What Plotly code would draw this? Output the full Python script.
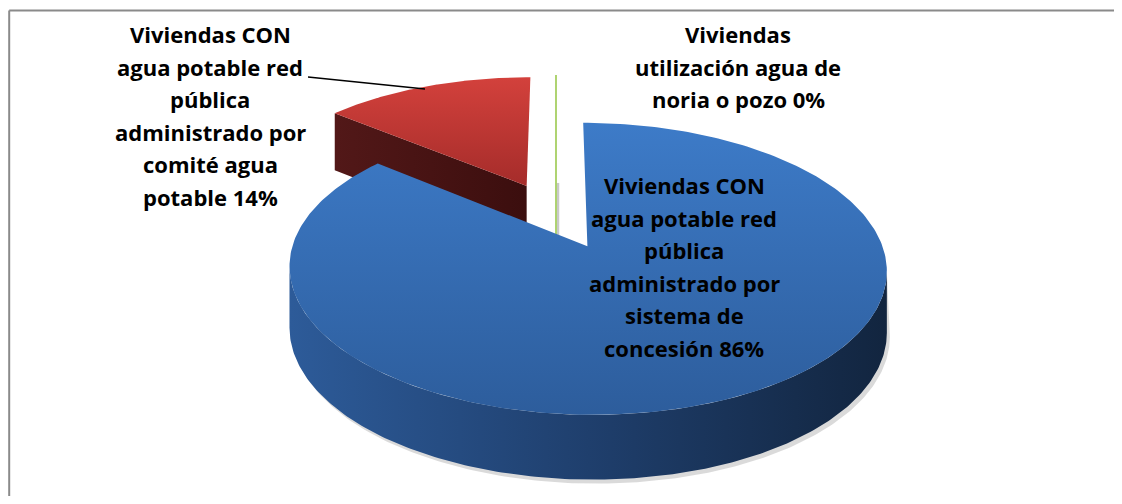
import numpy as np
import plotly.graph_objects as go

# ---------------- data ----------------
categories = [
    "Viviendas CON\nagua potable red\npública\nadministrado por\nsistema de\nconcesión",
    "Viviendas CON\nagua potable red\npública\nadministrado por\ncomité agua\npotable",
    "Viviendas\nutilización agua de\nnoria o pozo",
]
values = [86, 14, 0]

top_colors = [["#2d5d9c", "#3d7bc8"], ["#a52c2a", "#d3413c"], ["#7fae38", "#9bc94e"]]
side_colors = [["#2d5b99", "#1f3f6d", "#12253f"], ["#521818", "#471313", "#3b0e0e"], ["#6f9a30", "#6f9a30", "#6f9a30"]]

# label placement (page px) – centre x, first line y
label_pos = [(684, 184), (210, 33), (738, 33)]
LINE_STEP = 32.6

# ---------------- geometry params (page pixels) ----------------
PAGE_W, PAGE_H = 1122, 504
OFF = 8                       # default body margin of the html page
FW, FH = PAGE_W - 2 * OFF, PAGE_H - 2 * OFF
CX, CY = 556, 215
RX, RY = 285, 133
PERSP = 0.15
EXPLODE = 0.25
DEPTH = 60
DPERSP = 0.06


def px(x):
    return np.asarray(x, dtype=float) - OFF


def py(y):
    return FH - (np.asarray(y, dtype=float) - OFF)


def proj(X, Y, z=0.0):
    X = np.asarray(X, dtype=float)
    Y = np.asarray(Y, dtype=float)
    f = 1 + PERSP * Y
    sx = CX + RX * X / f
    sy = CY - RY * Y / f + z * DEPTH / (1 + DPERSP * Y)
    return px(sx), py(sy)


total = float(sum(values))
cum = np.concatenate([[0], np.cumsum(values)])
a0s = 2 * np.pi * cum[:-1] / total
a1s = 2 * np.pi * cum[1:] / total

fig = go.Figure()

slices = []
for i, (v, a0, a1) in enumerate(zip(values, a0s, a1s)):
    mid = (a0 + a1) / 2
    ox, oy = EXPLODE * np.sin(mid), EXPLODE * np.cos(mid)
    slices.append((i, a0, a1, ox, oy))

# back-to-front
slices.sort(key=lambda s: -s[4])


def add_poly(xs, ys, grad_type=None, cscale=None, color=None):
    tr = dict(x=list(xs) + [xs[0]], y=list(ys) + [ys[0]], mode="lines", fill="toself",
              line=dict(width=0, color="rgba(0,0,0,0)"), hoverinfo="skip", showlegend=False)
    if grad_type:
        tr["fillgradient"] = dict(type=grad_type, colorscale=cscale)
    else:
        tr["fillcolor"] = color
    fig.add_trace(go.Scatter(**tr))


for (i, a0, a1, ox, oy) in slices:
    if a1 - a0 < 1e-6:
        # zero-value slice: only its edge is visible as a thin line
        xo, yo = proj(ox + np.sin(a0), oy + np.cos(a0))
        xa, ya = proj(ox, oy)
        xb, yb = proj(ox, oy, 1)
        fig.add_trace(go.Scatter(x=[float(xb) + 2, float(xa) + 2], y=[float(yb), float(ya)],
                                 mode="lines", line=dict(color="#c9c9c9", width=2.5),
                                 hoverinfo="skip", showlegend=False))
        fig.add_trace(go.Scatter(x=[float(xo), float(xa), float(xb)], y=[float(yo), float(ya), float(yb)],
                                 mode="lines", line=dict(color=top_colors[i][1], width=1.6),
                                 hoverinfo="skip", showlegend=False))
        continue
    sc = side_colors[i]
    cs_side = [[0, sc[0]], [0.5, sc[1]], [1, sc[2]]]
    # radial faces
    for edge, nrm in ((a0, (-np.cos(a0), np.sin(a0))), (a1, (np.cos(a1), -np.sin(a1)))):
        if nrm[1] < -1e-9:
            X = [ox, ox + np.sin(edge), ox + np.sin(edge), ox]
            Y = [oy, oy + np.cos(edge), oy + np.cos(edge), oy]
            Z = [0, 0, 1, 1]
            pts = [proj(x, y, z) for x, y, z in zip(X, Y, Z)]
            add_poly([float(p[0]) for p in pts], [float(p[1]) for p in pts], "horizontal", cs_side)
    # outer rim (front visible part)
    tt = np.linspace(0, 2 * np.pi, 2000)
    sx, _ = proj(ox + np.sin(tt), oy + np.cos(tt))
    t_right, t_left = tt[np.argmax(sx)], tt[np.argmin(sx)]
    ts, te = max(a0, t_right), min(a1, t_left)
    if te > ts:
        t = np.linspace(ts, te, 200)
        xt, yt = proj(ox + np.sin(t), oy + np.cos(t), 0)
        xb, yb = proj(ox + np.sin(t), oy + np.cos(t), 1)
        # soft shadow below the rim
        add_poly(np.concatenate([xt, xb[::-1] + 3]), np.concatenate([yt, yb[::-1] - 4]),
                 color="rgba(150,150,150,0.35)")
        add_poly(np.concatenate([xt, xb[::-1]]), np.concatenate([yt, yb[::-1]]), "horizontal", cs_side)
    # top face
    t = np.linspace(a0, a1, 300)
    xt, yt = proj(ox + np.sin(t), oy + np.cos(t), 0)
    xa, ya = proj(ox, oy, 0)
    add_poly(np.concatenate([[xa], xt]), np.concatenate([[ya], yt]), "vertical",
             [[0, top_colors[i][0]], [1, top_colors[i][1]]])

# ---------------- labels ----------------
annotations = []
for i, (txt, v) in enumerate(zip(categories, values)):
    pct = round(v / total * 100)
    lines = txt.split("\n")
    lines[-1] = f"{lines[-1]} {pct}%"
    lx, ly = label_pos[i]
    for j, ln in enumerate(lines):
        annotations.append(dict(
            x=float(px(lx)), y=float(py(ly + j * LINE_STEP + 1)), xref="x", yref="y", text=ln,
            showarrow=False, xanchor="center", yanchor="middle",
            font=dict(family="Open Sans", size=22, color="black", weight=700)))

frame_y = float(py(10.5))
fig.update_layout(
    width=FW, height=FH, autosize=False,
    margin=dict(l=0, r=0, t=0, b=0),
    paper_bgcolor="white", plot_bgcolor="white",
    xaxis=dict(range=[0, FW], visible=False, fixedrange=True),
    yaxis=dict(range=[0, FH], visible=False, fixedrange=True),
    annotations=annotations,
    shapes=[
        dict(type="line", xref="x", yref="y", x0=1.2, x1=FW, y0=frame_y, y1=frame_y,
             line=dict(color="#8a8a8a", width=2), layer="below"),
        dict(type="line", xref="x", yref="y", x0=1.2, x1=1.2, y0=0, y1=frame_y,
             line=dict(color="#8a8a8a", width=2), layer="below"),
        dict(type="line", xref="x", yref="y", x0=float(px(308)), y0=float(py(77)),
             x1=float(px(425)), y1=float(py(89)), line=dict(color="black", width=1.5)),
    ],
    showlegend=False,
)

fig.write_html("out.html")
